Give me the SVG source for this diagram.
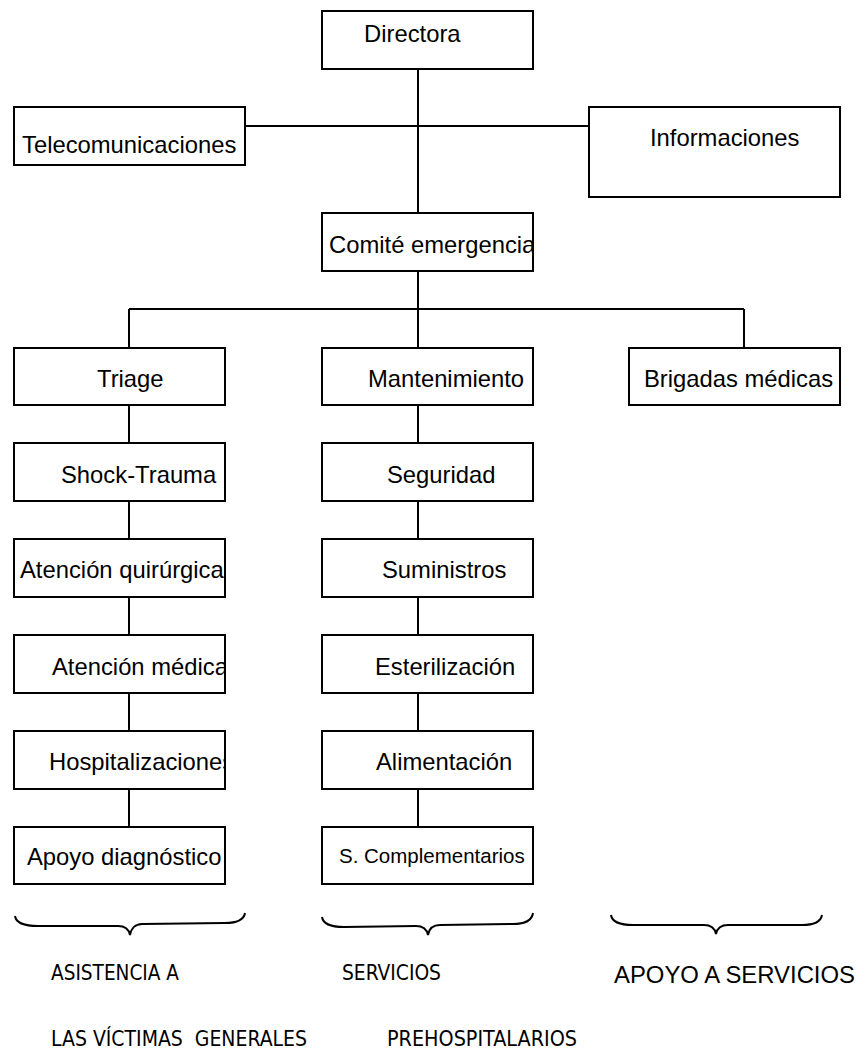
<svg xmlns="http://www.w3.org/2000/svg" width="862" height="1050" viewBox="0 0 862 1050">
<style>
.box{fill:#fff;stroke:#000;stroke-width:2}
.t{font-family:"Liberation Sans",Arial,sans-serif;font-size:23.8px;fill:#000}
.ts{font-family:"Liberation Sans",Arial,sans-serif;font-size:20.5px;fill:#000}
.n{font-family:"Liberation Sans Narrow","DejaVu Sans Condensed",sans-serif;font-size:22px;fill:#000}
.ln{stroke:#000;stroke-width:2;fill:none}
.br{stroke:#000;stroke-width:2;fill:none}
</style>
<defs>
<clipPath id="cComite"><rect x="322" y="213" width="211" height="58"/></clipPath>
<clipPath id="cQuir"><rect x="14" y="539" width="211" height="58"/></clipPath>
<clipPath id="cMed"><rect x="14" y="635" width="211" height="58"/></clipPath>
<clipPath id="cHosp"><rect x="14" y="731" width="211" height="58"/></clipPath>
<clipPath id="cSComp"><rect x="322" y="827" width="211" height="57"/></clipPath>
</defs>
<rect width="862" height="1050" fill="#fff"/>
<g id="connectors">
<path class="ln" d="M418,69 V213"/>
<path class="ln" d="M245,126 H589"/>
<path class="ln" d="M418,271 V309"/>
<path class="ln" d="M129,309 H744"/>
<path class="ln" d="M129,309 V348"/>
<path class="ln" d="M418,309 V348"/>
<path class="ln" d="M744,309 V348"/>
<path class="ln" d="M129,405 V443 M129,501 V539 M129,597 V635 M129,693 V731 M129,789 V827"/>
<path class="ln" d="M418,405 V443 M418,501 V539 M418,597 V635 M418,693 V731 M418,789 V827"/>
</g>
<g id="directora"><rect class="box" x="322" y="11" width="211" height="58"/><text class="t" x="364" y="42">Directora</text></g>
<g id="telecomunicaciones"><rect class="box" x="14" y="107" width="231" height="58"/><text class="t" x="22" y="153">Telecomunicaciones</text></g>
<g id="informaciones"><rect class="box" x="589" y="107" width="251" height="90"/><text class="t" x="650" y="146">Informaciones</text></g>
<g id="comite"><rect class="box" x="322" y="213" width="211" height="58"/><text class="t" x="329" y="253" clip-path="url(#cComite)">Comité emergencia</text></g>
<g id="triage"><rect class="box" x="14" y="348" width="211" height="57"/><text class="t" x="97" y="387">Triage</text></g>
<g id="shock"><rect class="box" x="14" y="443" width="211" height="58"/><text class="t" x="61" y="483">Shock-Trauma</text></g>
<g id="quirurgica"><rect class="box" x="14" y="539" width="211" height="58"/><text class="t" x="20" y="578" clip-path="url(#cQuir)">Atención quirúrgica</text></g>
<g id="medica"><rect class="box" x="14" y="635" width="211" height="58"/><text class="t" x="52" y="675" clip-path="url(#cMed)">Atención médica</text></g>
<g id="hospitalizaciones"><rect class="box" x="14" y="731" width="211" height="58"/><text class="t" x="49" y="770" clip-path="url(#cHosp)">Hospitalizaciones</text></g>
<g id="apoyo-diagnostico"><rect class="box" x="14" y="827" width="211" height="57"/><text class="t" x="27" y="865">Apoyo diagnóstico</text></g>
<g id="mantenimiento"><rect class="box" x="322" y="348" width="211" height="57"/><text class="t" x="368" y="387">Mantenimiento</text></g>
<g id="seguridad"><rect class="box" x="322" y="443" width="211" height="58"/><text class="t" x="387" y="483">Seguridad</text></g>
<g id="suministros"><rect class="box" x="322" y="539" width="211" height="58"/><text class="t" x="382" y="578">Suministros</text></g>
<g id="esterilizacion"><rect class="box" x="322" y="635" width="211" height="58"/><text class="t" x="375" y="675">Esterilización</text></g>
<g id="alimentacion"><rect class="box" x="322" y="731" width="211" height="58"/><text class="t" x="376" y="770">Alimentación</text></g>
<g id="s-complementarios"><rect class="box" x="322" y="827" width="211" height="57"/><text class="ts" x="339" y="863" clip-path="url(#cSComp)">S. Complementarios</text></g>
<g id="brigadas"><rect class="box" x="629" y="348" width="211" height="57"/><text class="t" x="644" y="387">Brigadas médicas</text></g>
<g id="braces">
<path class="br" d="M15,916 C16,923 24,926 38,926 L118,926 C125,926 129,930 130,935 C131,929 135,924 142,924 L225,923 C238,923 244,919 245,913"/>
<path class="br" d="M322,917 C323,924 330,927 344,927 L416,926 C423,926 427,930 428,935 C429,929 433,925 440,925 L513,924 C526,924 532,920 533,913"/>
<path class="br" d="M611,915 C612,922 619,925 633,925 L704,925 C711,925 715,929 716,934 C717,929 721,925 728,925 L802,925 C815,925 821,921 822,915"/>
</g>
<g id="labels">
<text class="n" x="51" y="980" textLength="128" lengthAdjust="spacingAndGlyphs">ASISTENCIA A</text>
<text class="n" x="342" y="980" textLength="99" lengthAdjust="spacingAndGlyphs">SERVICIOS</text>
<text class="t" x="614" y="983" textLength="241" lengthAdjust="spacingAndGlyphs">APOYO A SERVICIOS</text>
<text class="n" x="51" y="1046" textLength="256" lengthAdjust="spacingAndGlyphs" xml:space="preserve">LAS VÍCTIMAS  GENERALES</text>
<text class="n" x="387" y="1046" textLength="190" lengthAdjust="spacingAndGlyphs">PREHOSPITALARIOS</text>
</g>
</svg>
